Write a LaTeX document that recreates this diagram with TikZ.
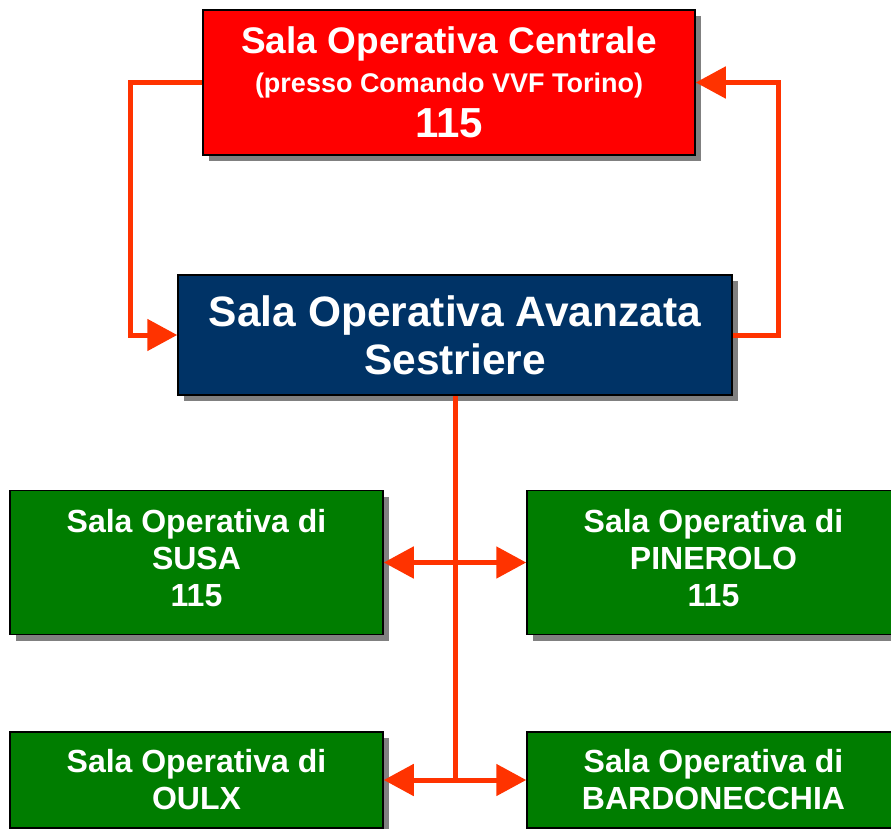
\documentclass[tikz,border=0pt]{standalone}
\usepackage{fontspec}
\setmainfont{Liberation Sans}
\usetikzlibrary{arrows.meta,shadows}
\definecolor{boxred}{RGB}{255,0,0}
\definecolor{boxnavy}{RGB}{0,51,102}
\definecolor{boxgreen}{RGB}{0,125,0}
\definecolor{conn}{RGB}{255,51,0}
\definecolor{shade}{RGB}{128,128,128}
\tikzset{
  box/.style={draw=black, line width=1.5pt, inner sep=0pt, text=white, align=center,
    drop shadow={shadow xshift=6pt, shadow yshift=-6pt, fill=shade, opacity=1}},
  greenbox/.style={box, fill=boxgreen, minimum width=373pt,
    font=\bfseries\fontsize{32}{37}\selectfont},
  link/.style={draw=conn, line width=5pt},
  tip/.style={-{Triangle[length=30pt,width=31pt]}},
  tips/.style={{Triangle[length=30pt,width=31pt]}-{Triangle[length=30pt,width=31pt]}},
}
\begin{document}
\begin{tikzpicture}[x=1pt,y=-1pt]
\useasboundingbox (0,0) rectangle (891,829);
\clip (0,0) rectangle (891,829);
\fill[white] (0,0) rectangle (891,829);

\node[box, fill=boxred, minimum width=492pt, minimum height=145pt,
      font=\bfseries\fontsize{37}{40}\selectfont] (central) at (449,82.5)
  {Sala Operativa Centrale\\[-1pt]
   {\fontsize{27}{40}\selectfont (presso Comando VVF Torino)}\\[5pt]
   {\fontsize{42}{40}\selectfont 115}};

\node[box, fill=boxnavy, minimum width=554pt, minimum height=120pt,
      font=\bfseries\fontsize{42.5}{48}\selectfont] (avanz) at (455,335)
  {Sala Operativa Avanzata\\ Sestriere};

\node[greenbox, minimum height=144pt, text depth=9pt] (susa) at (196.5,562.5)
  {Sala Operativa di\\ SUSA\\ 115};
\node[greenbox, minimum height=144pt, text depth=9pt] (pine) at (713.5,562.5)
  {Sala Operativa di\\ PINEROLO\\ 115};

\node[greenbox, minimum height=96pt] (oulx) at (196.5,780)
  {Sala Operativa di\\ OULX};
\node[greenbox, minimum height=96pt] (bard) at (713.5,780)
  {Sala Operativa di\\ BARDONECCHIA};

\coordinate (lx) at (130,0);
\coordinate (rx) at (778,0);
\coordinate (bot) at (455,780);

\draw[link, tip] (central.west) -- (lx |- central.west) -- (lx |- avanz.west) -- (avanz.west);
\draw[link, tip] (avanz.east) -- (rx |- avanz.east) -- (rx |- central.east) -- (central.east);
\draw[link] (avanz.south) -- (bot);
\draw[link, tips] (susa.east) -- (pine.west);
\draw[link, tips] (oulx.east) -- (bard.west);
\end{tikzpicture}
\end{document}
